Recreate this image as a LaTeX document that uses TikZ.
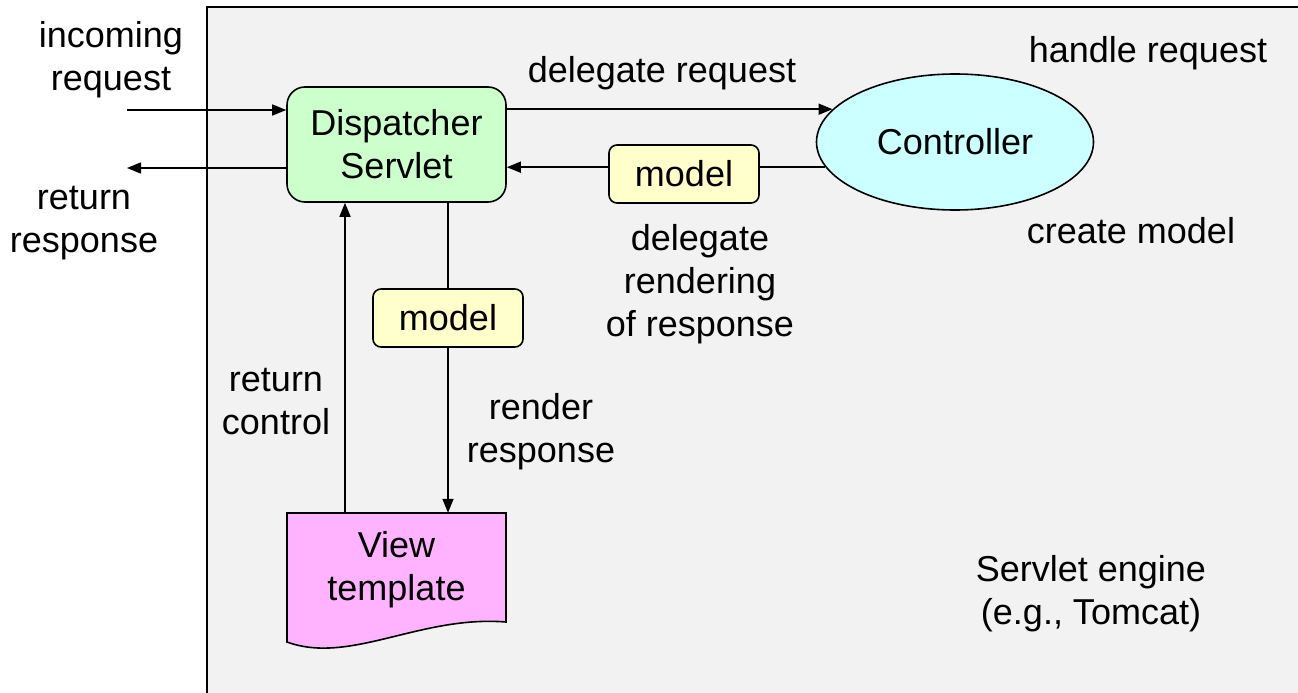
\documentclass[tikz,border=0pt]{standalone}
\usepackage{fontspec}
\setmainfont{Liberation Sans}
\usetikzlibrary{shapes.geometric,arrows.meta,calc}
\definecolor{enginebg}{HTML}{F2F2F2}
\definecolor{dispfill}{HTML}{CCFFCC}
\definecolor{ctrlfill}{HTML}{CCFFFF}
\definecolor{modelfill}{HTML}{FFFFCC}
\definecolor{viewfill}{HTML}{FFB3FF}
\tikzset{
  txt/.style={font=\fontsize{36}{43}\selectfont, align=center, inner sep=0pt},
  dispbox/.style={txt, draw, line width=1.6pt, fill=dispfill, rounded corners=18pt, minimum width=219pt, minimum height=115pt},
  ctrlbox/.style={txt, draw, line width=1.6pt, fill=ctrlfill, ellipse, minimum width=277pt, minimum height=136pt},
  modelbox/.style={txt, draw, line width=1.6pt, fill=modelfill, rounded corners=8pt, minimum width=150pt, minimum height=58pt},
  conn/.style={line width=1.6pt, -{Triangle[length=14pt,width=11pt]}},
  plain/.style={line width=1.6pt},
}
\begin{document}
\begin{tikzpicture}[x=1pt,y=-1pt]
\useasboundingbox (0,0) rectangle (1298,693);
% engine
\fill[enginebg] (207,7) rectangle (1298,693);
\draw[line width=2pt] (207,693) -- (207,7) -- (1298,7);
% nodes
\node[dispbox] (disp) at (396.5,144.5) {Dispatcher\\Servlet};
\node[ctrlbox] (ctrl) at (955,142) {Controller};
% view template
\fill[viewfill] (287,513) -- (506,513) -- (506,622) .. controls (420,615) and (350,665) .. (287,642) -- cycle;
\draw[line width=1.6pt] (287,513) -- (506,513) -- (506,622) .. controls (420,615) and (350,665) .. (287,642) -- cycle;
\node[txt, minimum width=219pt, minimum height=114pt] (view) at (396.5,570) {View\\template};
% connectors
\coordinate (inL) at (127,110);
\coordinate (outL) at (127,168);
\draw[conn] (inL) -- (disp.west |- inL);
\draw[conn] (disp.west |- outL) -- (outL);
\draw[conn] (disp.east |- ctrl.165) -- (ctrl.165);
\draw[conn] (ctrl.191) -- (disp.east |- ctrl.191);
\node[modelbox] (m1) at (684,174) {model};
\coordinate (downx) at (448,0);
\coordinate (upx) at (345,0);
\draw[conn] (disp.south -| downx) -- (view.north -| downx);
\node[modelbox] (m2) at (448,318) {model};
\draw[conn] (view.north -| upx) -- (disp.south -| upx);
% labels
\node[txt] (lin) at (111,60) {incoming\\request};
\node[txt] (lout) at (84,223) {return\\response};
\node[txt] (ldel) at (662,73) {delegate request};
\node[txt] (lhandle) at (1148,53) {handle request};
\node[txt] (lcreate) at (1131,231) {create model};
\node[txt] (lrend) at (700,284) {delegate\\rendering\\of response};
\node[txt] (lret) at (276,402) {return\\control};
\node[txt] (lrr) at (541,432) {render\\response};
\node[txt] (leng) at (1091,594) {Servlet engine\\(e.g., Tomcat)};
\end{tikzpicture}
\end{document}
